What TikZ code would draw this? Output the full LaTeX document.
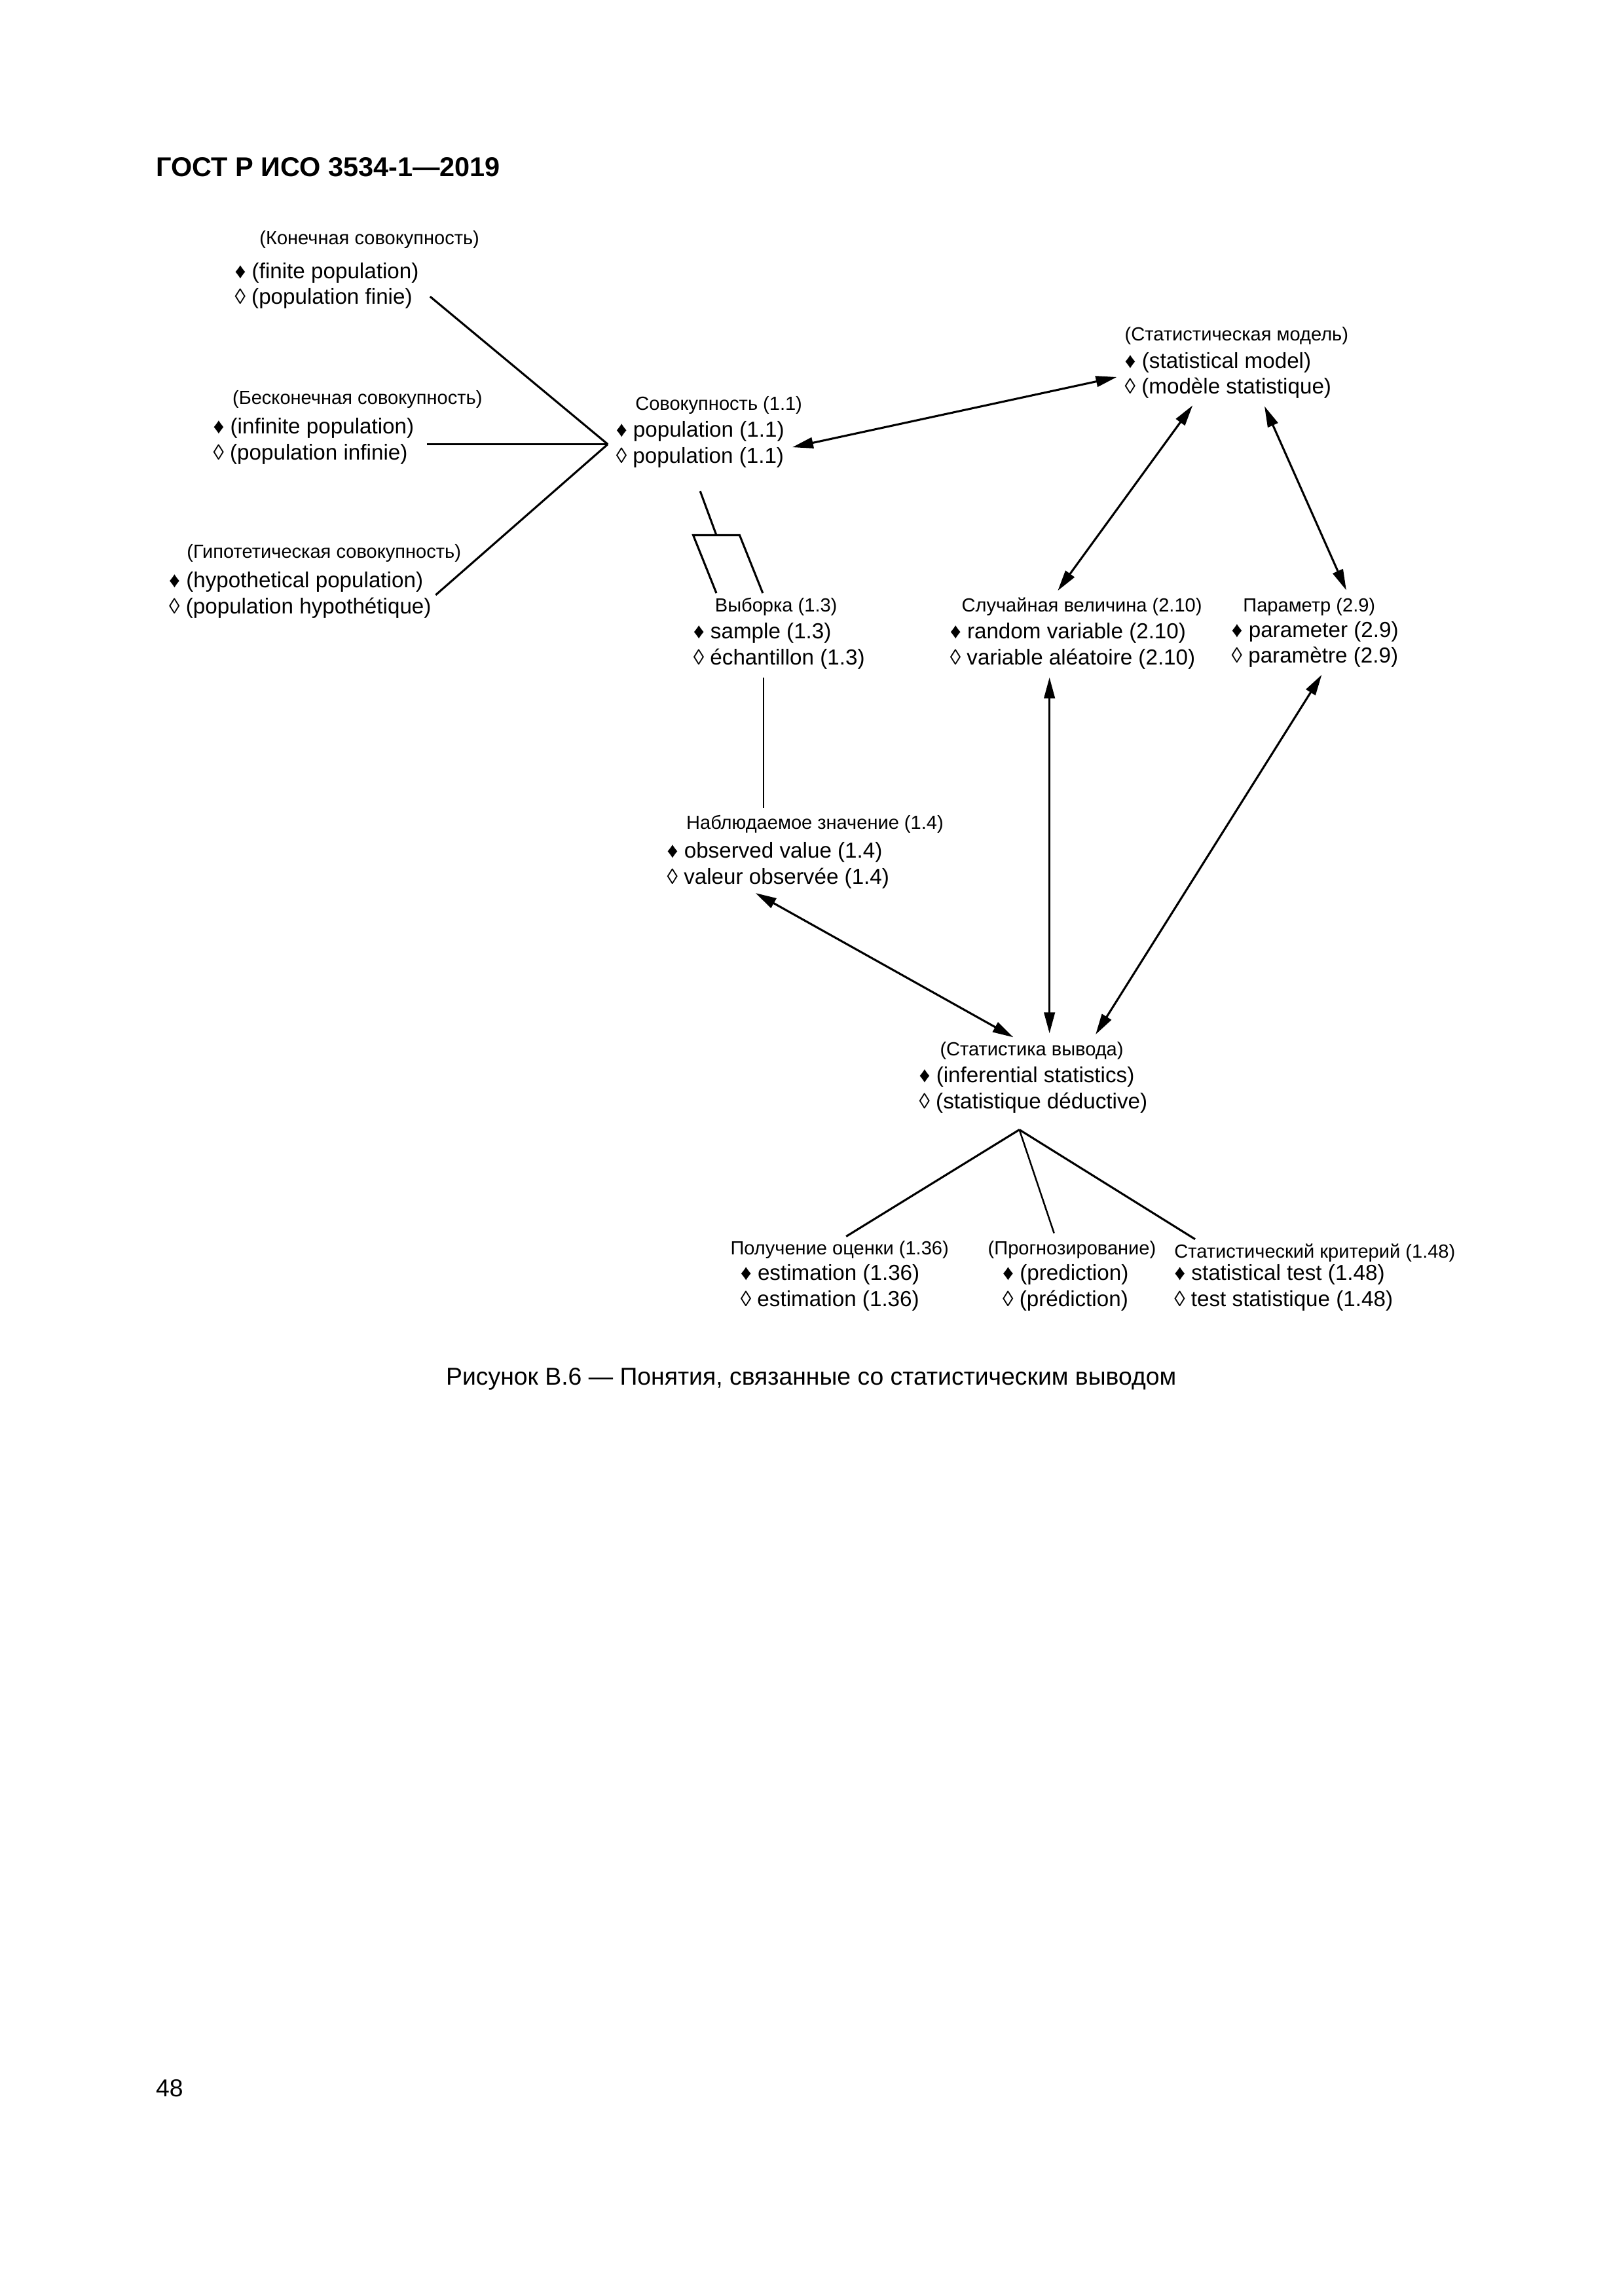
\documentclass[tikz,border=0pt]{standalone}
\usepackage{fontspec}
\setmainfont{Liberation Sans}
\usetikzlibrary{positioning, arrows.meta}

\tikzset{
  term/.style={align=left, inner sep=0pt, anchor=north west, font=\fontsize{8}{9.6}\selectfont},
  ttl/.style={inner sep=0pt, font=\fontsize{7}{8.4}\selectfont},
  link/.style={line width=0.75pt},
  thinlink/.style={line width=0.6pt},
  rel/.style={link, <->, shorten <=1mm, shorten >=1mm},
}

\begin{document}
\begin{tikzpicture}[>={Triangle[length=2.7mm,width=1.4mm]}]
        \useasboundingbox (0,0) rectangle (21,29.7);

        % Header
        \node (head) [anchor=base west, inner sep=0pt, font=\fontsize{10}{12}\selectfont\bfseries] at (2.01,27.42) {ГОСТ Р ИСО 3534-1—2019};

        % Terms
        \node (finite) [term] at (3.03,26.31) {♦ (finite population)\\◊ (population finie)};
        \node (finite-t) [ttl, above right=1.7mm and 3.2mm of finite.north west] {(Конечная совокупность)};
        \node (infinite) [term] at (2.75,24.30) {♦ (infinite population)\\◊ (population infinie)};
        \node (infinite-t) [ttl, above right=1.1mm and 2.5mm of infinite.north west] {(Бесконечная совокупность)};
        \node (hyp) [term] at (2.18,22.31) {♦ (hypothetical population)\\◊ (population hypothétique)};
        \node (hyp-t) [ttl, above right=1.1mm and 2.3mm of hyp.north west] {(Гипотетическая совокупность)};

        \node (popul) [term] at (7.96,24.26) {♦ population (1.1)\\◊ population (1.1)};
        \node (popul-t) [ttl, above right=0.8mm and 2.5mm of popul.north west] {Совокупность (1.1)};
        \node (model) [term] at (14.54,25.15) {♦ (statistical model)\\◊ (modèle statistique)};
        \node (model-t) [ttl, above right=0.8mm and 0mm of model.north west] {(Статистическая модель)};

        \node (sample) [term] at (8.96,21.65) {♦ sample (1.3)\\◊ échantillon (1.3)};
        \node (sample-t) [ttl, above right=0.8mm and 2.8mm of sample.north west] {Выборка (1.3)};
        \node (randvar) [term] at (12.28,21.65) {♦ random variable (2.10)\\◊ variable aléatoire (2.10)};
        \node (randvar-t) [ttl, above right=0.8mm and 1.5mm of randvar.north west] {Случайная величина (2.10)};
        \node (param) [term] at (15.92,21.67) {♦ parameter (2.9)\\◊ paramètre (2.9)};
        \node (param-t) [ttl, above right=0.6mm and 1.5mm of param.north west] {Параметр (2.9)};

        \node (obsval) [term] at (8.62,18.81) {♦ observed value (1.4)\\◊ valeur observée (1.4)};
        \node (obsval-t) [ttl, above right=1.1mm and 2.5mm of obsval.north west] {Наблюдаемое значение (1.4)};
        \node (infer) [term] at (11.88,15.91) {♦ (inferential statistics)\\◊ (statistique déductive)};
        \node (infer-t) [ttl, above right=0.8mm and 2.7mm of infer.north west] {(Статистика вывода)};

        \node (estim) [term] at (9.57,13.35) {♦ estimation (1.36)\\◊ estimation (1.36)};
        \node (estim-t) [ttl, above right=0.6mm and -1.3mm of estim.north west] {Получение оценки (1.36)};
        \node (predict) [term] at (12.96,13.35) {♦ (prediction)\\◊ (prédiction)};
        \node (predict-t) [ttl, above right=0.6mm and -1.9mm of predict.north west] {(Прогнозирование)};
        \node (stattest) [term] at (15.18,13.35) {♦ statistical test (1.48)\\◊ test statistique (1.48)};
        \node (stattest-t) [ttl, above right=0.2mm and 0mm of stattest.north west] {Статистический критерий (1.48)};

        % Caption and page number
        \node (caption) [anchor=base, inner sep=0pt, font=\fontsize{9}{11}\selectfont] at (10.49,11.78) {Рисунок В.6 — Понятия, связанные со статистическим выводом};
        \node (page) [anchor=base west, inner sep=0pt, font=\fontsize{9}{11}\selectfont] at (2.01,2.58) {48};

        % Kinds of population
        \coordinate (J) at ([xshift=-1mm]popul.west);
        \coordinate (inf-end) at ([xshift=1.6mm]infinite.east);
        \draw[link] ([shift={(1.4mm,-1.4mm)}]finite.east) -- (J);
        \draw[link] (inf-end |- J) -- (J);
        \draw[link] ([xshift=0.5mm]hyp.east) -- (J);

        % Population -> sample
        \draw[link] ([yshift=-3mm]popul.south) -- ++(0.21,-0.57) coordinate (fork);
        \draw[link] ([xshift=-3mm]fork) ++(0.3,-0.75) -- ([xshift=-3mm]fork) -- ([xshift=3mm]fork) -- ++(0.3,-0.75);

        % Sample -> observed value
        \coordinate (s-end) at ([xshift=-2mm]sample.south);
        \draw[thinlink, shorten <=1mm, shorten >=0.8mm] (s-end) -- (s-end |- obsval-t.north);

        % Arrows
        \draw[rel] ([yshift=-0.6mm]popul.east) -- (model.west);
        \draw[rel] ([xshift=-4mm]model.south) -- ([xshift=-3.7mm]randvar-t.north);
        \draw[rel] ([xshift=4.3mm]model.south) -- ([xshift=5.2mm]param-t.north);
        \coordinate (rv-end) at ([xshift=-3mm]randvar.south);
        \draw[rel, thinlink] (rv-end) -- (rv-end |- infer-t.north);
        \draw[rel] ([xshift=1.4mm]param.south) -- ([xshift=-4.2mm]infer-t.north east);
        \draw[rel] ([xshift=-3.8mm]obsval.south) -- ([xshift=-1.5mm]infer-t.north);

        % Inferential statistics -> kinds
        \coordinate (apex) at ([shift={(-1.8mm,-2.1mm)}]infer.south);
        \draw[link, shorten >=1mm] (apex) -- (estim-t.north);
        \draw[thinlink, shorten >=1mm] (apex) -- ([xshift=-2mm]predict-t.north);
        \draw[link, shorten >=1mm] (apex) -- ([xshift=3.6mm]stattest-t.north west);

    \end{tikzpicture}
\end{document}
